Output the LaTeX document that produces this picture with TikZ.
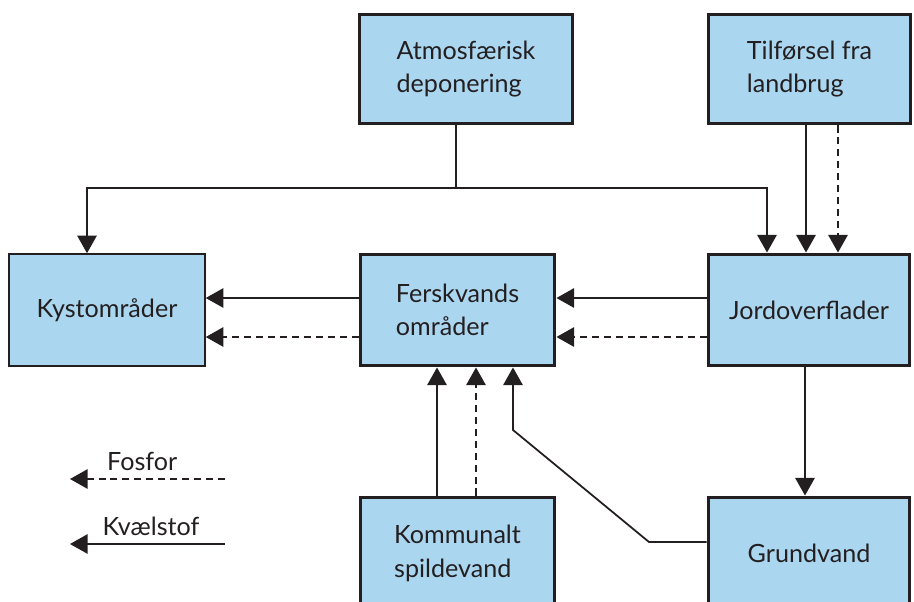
\documentclass[tikz,border=0pt]{standalone}
\usepackage{fontspec}
\setmainfont{Lato}
\usepackage{xcolor}
\usepackage{tikz}
\usetikzlibrary{positioning, arrows.meta}

\definecolor{boxblue}{RGB}{171,214,240}
\definecolor{inkdark}{RGB}{35,31,32}

\begin{document}
\begin{tikzpicture}[x=0.02cm, y=-0.02cm,
    font=\fontsize{14.3}{19}\selectfont,
    kilde/.style={draw=inkdark, fill=boxblue, line width=1.7pt, inner sep=0pt, align=left, text=inkdark},
    flow/.style={line width=1pt, draw=inkdark, -{Triangle[length=10pt, width=11pt]}},
    fosfor/.style={flow, dash pattern=on 4pt off 2.8pt}]
  \useasboundingbox (0,0) rectangle (914,602);

  \node[kilde, minimum width=4.28cm, minimum height=2.2cm] (atmos) at (466,69) {Atmosfærisk\\deponering};
  \node[kilde, minimum width=4.06cm, minimum height=2.2cm] (tilf) at (809.5,69) {Tilførsel fra\\landbrug};
  \node[kilde, line width=0.9pt, minimum width=3.92cm, minimum height=2.24cm] (kyst) at (107,310) {Kystområder};
  \node[kilde, minimum width=3.9cm, minimum height=2.24cm] (fersk) at (457.5,310) {Ferskvands\\områder};
  \node[kilde, minimum width=4.04cm, minimum height=2.24cm] (jord) at (809,310) {Jordoverflader};
  \node[kilde, minimum width=3.9cm, minimum height=2.26cm] (komm) at (457.5,553.5) {Kommunalt\\spildevand};
  \node[kilde, minimum width=4.04cm, minimum height=2.26cm] (grund) at (809,553.5) {Grundvand};

  % atmosfærisk deponering
  \coordinate (split) at (456,188);
  \draw[line width=1pt, draw=inkdark] (456,0 |- atmos.south) -- (split);
  \draw[flow] (split) -| (87,0 |- kyst.north);
  \draw[flow] (split) -| (767,0 |- jord.north);

  % landbrug
  \draw[flow] (806,0 |- tilf.south) -- (806,0 |- jord.north);
  \draw[fosfor] (838,0 |- tilf.south) -- (838,0 |- jord.north);

  \draw[flow] (0,298 -| fersk.west) -- (0,298 -| kyst.east);
  \draw[fosfor] (0,337 -| fersk.west) -- (0,337 -| kyst.east);
  \draw[flow] (0,298 -| jord.west) -- (0,298 -| fersk.east);
  \draw[fosfor] (0,337 -| jord.west) -- (0,337 -| fersk.east);

  \draw[flow] (437,0 |- komm.north) -- (437,0 |- fersk.south);
  \draw[fosfor] (476,0 |- komm.north) -- (476,0 |- fersk.south);
  \draw[flow] (0,542 -| grund.west) -- (649,542) -- (513,430) -- (513,0 |- fersk.south);
  \draw[flow] (805,0 |- jord.south) -- (805,0 |- grund.north);

  % signaturforklaring
  \coordinate (fosforA) at (225,479);
  \coordinate (fosforB) at (70,479);
  \coordinate (kvaelA) at (225,544);
  \coordinate (kvaelB) at (70,544);
  \draw[fosfor] (fosforA) -- node[above=1pt, xshift=-3pt, text=inkdark] {Fosfor} (fosforB);
  \draw[flow] (kvaelA) -- node[above=1pt, xshift=2pt, text=inkdark] {Kvælstof} (kvaelB);
\end{tikzpicture}
\end{document}
